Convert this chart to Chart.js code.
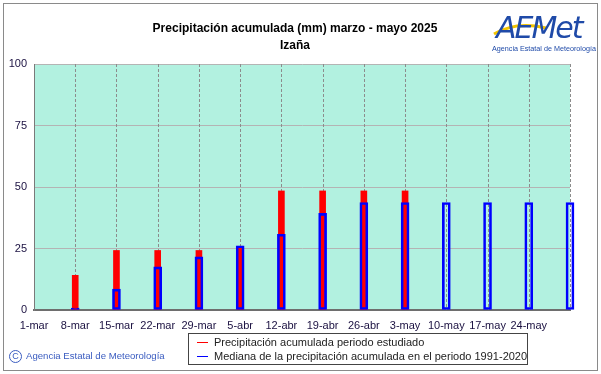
<!DOCTYPE html>
<html>
<head>
<meta charset="utf-8">
<script src="https://cdn.jsdelivr.net/npm/chart.js@4.4.1/dist/chart.umd.min.js"></script>
<style>
  body { margin: 0; background: #fff; }
  #wrap { position: relative; width: 601px; height: 374px; font-family: Arial, "Liberation Sans", sans-serif; }
  #frame { position: absolute; left: 3px; top: 3px; width: 593px; height: 366px; border: 1px solid #8a8a8a; pointer-events: none; }
  #title { position: absolute; left: 0; width: 590px; top: 20px; text-align: center; font-weight: bold; font-size: 12px; line-height: 17px; color: #000; }
  #legend { position: absolute; left: 188px; top: 333px; width: 338px; height: 30px; border: 1px solid #444; background: #fff; font-size: 11px; color: #222; }
  #legend .row { position: absolute; left: 25px; height: 14px; line-height: 14px; white-space: nowrap; }
  #legend .sw { position: absolute; left: 8px; width: 11px; height: 1px; }
  #copy { position: absolute; left: 9px; top: 350px; font-size: 9.6px; color: #3a5cc0; white-space: nowrap; }
  #copy span.c { display: inline-block; width: 11px; height: 11px; border: 1px solid #3a5cc0; border-radius: 50%; font-size: 9px; line-height: 11px; text-align: center; margin-right: 4px; vertical-align: middle; }
  #logo { position: absolute; left: 488px; top: 4px; width: 110px; height: 52px; }
</style>
</head>
<body>
<div id="wrap">
  <canvas id="chart" width="601" height="374"></canvas>
  <div id="frame"></div>
  <div id="title">Precipitación acumulada (mm) marzo - mayo 2025<br>Izaña</div>
  <svg id="logo" width="110" height="52" viewBox="0 0 110 52">
    <path d="M6 30 Q28 17 58 24" stroke="#f2c400" stroke-width="3" fill="none"/>
    <text x="8" y="34" font-family="DejaVu Sans, sans-serif" font-style="italic" font-size="30" fill="#1f4aa8" letter-spacing="-2" font-weight="normal">AEMet</text>
    <text x="4" y="47" font-family="Arial, sans-serif" font-size="7.2" fill="#1f4aa8">Agencia Estatal de Meteorología</text>
  </svg>
  <div id="legend">
    <div class="sw" style="top:8px;background:#ff0000"></div>
    <div class="row" style="top:1px">Precipitación acumulada periodo estudiado</div>
    <div class="sw" style="top:22px;background:#0000ff"></div>
    <div class="row" style="top:15px">Mediana de la precipitación acumulada en el periodo 1991-2020</div>
  </div>
  <div id="copy"><span class="c">C</span>Agencia Estatal de Meteorología</div>
</div>
<script>
// semanas (la última no lleva etiqueta en el eje)
const weeks = ['1-mar', '8-mar', '15-mar', '22-mar', '29-mar', '5-abr', '12-abr',
  '19-abr', '26-abr', '3-may', '10-may', '17-may', '24-may', '31-may'];

// precipitación acumulada 2025 (mm)
const precip = [null, 14.1, 24.2, 24.2, 24.2, 25.9, 48.4, 48.4, 48.4, 48.4, null, null, null, null];

// mediana 1991-2020 (mm)
const median = [null, 0.8, 8.5, 17.5, 21.6, 26.1, 30.8, 39.3, 43.7, 43.7, 43.7, 43.7, 43.7, 43.7];

const yTicks = [0, 25, 50, 75, 100];

const plotBg = {
  id: 'plotBg',
  beforeDraw(chart) {
    const a = chart.chartArea, ctx = chart.ctx;
    ctx.save();
    ctx.fillStyle = '#b2f1e0';
    ctx.fillRect(a.left, a.top, a.right - a.left, a.bottom - a.top);
    ctx.restore();
  }
};

new Chart(document.getElementById('chart'), {
  type: 'bar',
  data: {
    labels: weeks,
    datasets: [
      {
        label: 'Precipitación acumulada periodo estudiado',
        data: precip,
        backgroundColor: '#ff0000',
        borderWidth: 0,
        barThickness: 6,
        grouped: false,
        order: 2,
        clip: false
      },
      {
        label: 'Mediana de la precipitación acumulada en el periodo 1991-2020',
        data: median,
        backgroundColor: 'rgba(0,0,0,0)',
        borderColor: '#0000ff',
        borderWidth: 2,
        borderSkipped: false,
        barThickness: 8,
        grouped: false,
        order: 1,
        clip: false
      }
    ]
  },
  options: {
    responsive: false,
    animation: false,
    layout: { padding: { top: 64, right: 31, bottom: 42, left: 0 } },
    plugins: {
      legend: { display: false },
      tooltip: { enabled: false }
    },
    scales: {
      x: {
        offset: false,
        grid: { display: false, drawTicks: false, offset: false },
        border: { display: true, color: '#6e6e6e', width: 2 },
        ticks: {
          padding: 9,
          maxRotation: 0,
          autoSkip: false,
          color: '#1a1040',
          font: { family: 'Arial', size: 11 },
          callback: (v, i) => (i === weeks.length - 1 ? '' : weeks[i])
        },
        afterFit(scale) { scale.height = 22; }
      },
      y: {
        min: 0,
        max: 100,
        afterBuildTicks(scale) { scale.ticks = yTicks.map(v => ({ value: v })); },
        grid: { color: '#b4b4b4', drawTicks: false },
        border: { color: '#7a7a7a' },
        ticks: {
          padding: 7,
          color: '#1a1040',
          font: { family: 'Arial', size: 11 }
        },
        afterFit(scale) { scale.width = 34; }
      }
    }
  },
  plugins: [plotBg, {
    // rejilla vertical discontinua
    id: 'dashGrid',
    beforeDatasetsDraw(chart) {
      const x = chart.scales.x, a = chart.chartArea, ctx = chart.ctx;
      ctx.save();
      ctx.strokeStyle = '#8c8c8c';
      ctx.setLineDash([3, 2]);
      ctx.lineWidth = 1;
      weeks.forEach((w, i) => {
        if (i === 0) return;
        const px = Math.round(x.getPixelForValue(i)) + 0.5;
        ctx.beginPath();
        ctx.moveTo(px, a.top);
        ctx.lineTo(px, a.bottom);
        ctx.stroke();
      });
      ctx.restore();
    }
  }]
});
</script>
</body>
</html>
